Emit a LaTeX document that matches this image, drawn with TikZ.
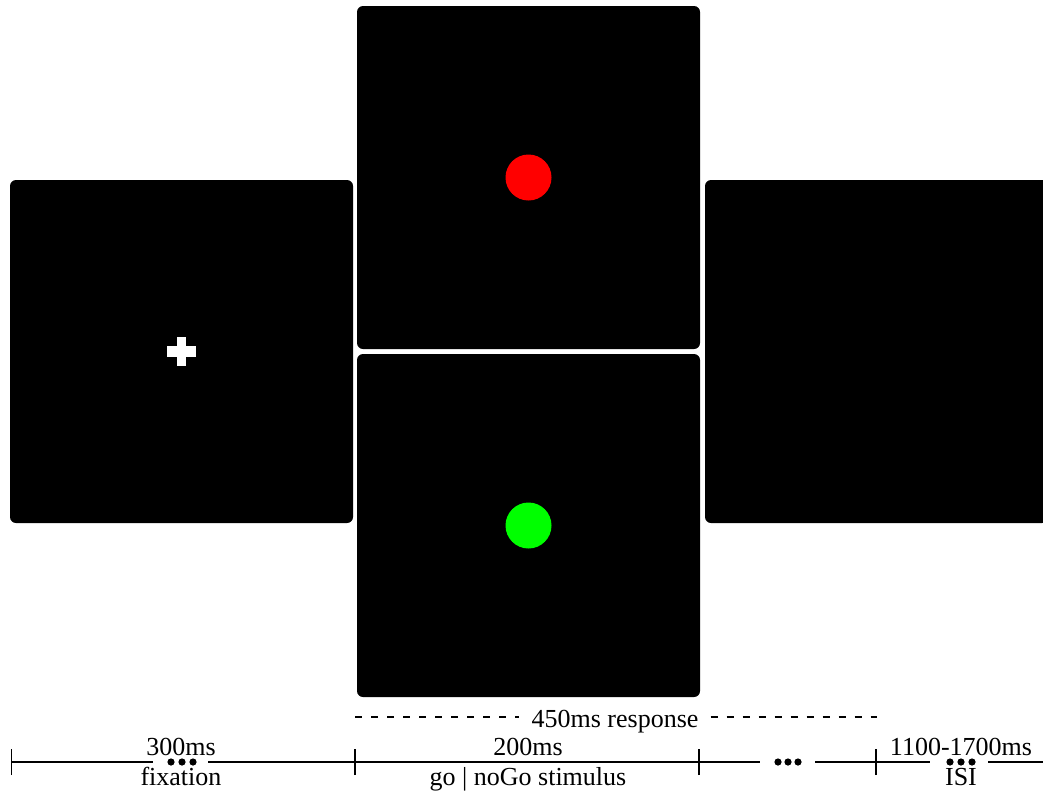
\documentclass[tikz,border=0pt]{standalone}
\usepackage{fontspec}
\setmainfont{Liberation Serif}
\begin{document}
\begin{tikzpicture}[x=1pt,y=-1pt,
  screen/.style={fill=black,draw=none,rounded corners=6pt,minimum width=343pt,minimum height=343pt,inner sep=0pt},
  lbl/.style={font=\fontsize{26}{30}\selectfont,inner sep=0pt,anchor=base},
  tl/.style={line width=1.8pt},
  dsh/.style={line width=1.8pt,dash pattern=on 7pt off 9pt},
  gap/.style={minimum width=#1,minimum height=10pt,inner sep=0pt},
  dot/.style={fill=black}
]
\useasboundingbox (0,0) rectangle (1043,790);
\clip (0,0) rectangle (1043,790);
% screens
\node[screen] (fix) at (181.5,351.5) {};
\node[screen] (nogo) at (528.5,177.5) {};
\node[screen] (go) at (528.5,525.5) {};
\node[screen] (isi) at (876.5,351.5) {};
% cross
\fill[white] ([xshift=-14.5pt,yshift=-5.5pt]fix.center) rectangle ([xshift=14.5pt,yshift=5.5pt]fix.center);
\fill[white] ([xshift=-4.5pt,yshift=-14.5pt]fix.center) rectangle ([xshift=4.5pt,yshift=14.5pt]fix.center);
% stimuli
\fill[red] (nogo.center) circle (23);
\fill[green] (go.center) circle (23);
% response
\node[lbl] (resp) at (615,727) {450ms response};
\coordinate (r0) at (355,717);
\coordinate (r1) at (877,717);
\draw[dsh] (r0) -- ([xshift=-12pt]resp.west |- r0);
\draw[dsh] ([xshift=12pt]resp.east |- r1) -- (r1);
% timeline
\coordinate (t0) at (11.5,762);
\coordinate (t1) at (355,762);
\coordinate (t2) at (699,762);
\coordinate (t3) at (876,762);
\coordinate (t4) at (1043,762);
\node[gap=55pt] (g1) at (180.5,762) {};
\node[gap=55pt] (g2) at (787.5,762) {};
\node[gap=58pt] (g3) at (959,762) {};
\draw[tl] (t0) -- (g1.west) (g1.east) -- (t1) -- (t2) -- (g2.west) (g2.east) -- (t3) -- (g3.west) (g3.east) -- (t4);
\foreach \t in {t0,t1,t2,t3}
  \draw[tl] ([yshift=-13pt]\t) -- ([yshift=13pt]\t);
\foreach \d in {-11,0,11} \fill[dot] ([xshift=\d pt+1.5pt]g1.center) circle (3.6);
\foreach \d in {-10,0,10} \fill[dot] ([xshift=\d pt+0.5pt]g2.center) circle (3.6);
\foreach \d in {-11,0,11} \fill[dot] ([xshift=\d pt+2pt]g3.center) circle (3.6);
% labels
\node[lbl] (l1a) at (181,755) {300ms};
\node[lbl] (l1b) at (181,785) {fixation};
\node[lbl] (l2a) at (528,755) {200ms};
\node[lbl] (l2b) at (528,785) {go | noGo stimulus};
\node[lbl] (l4a) at (961,755) {1100-1700ms};
\node[lbl] (l4b) at (961,785) {ISI};
\end{tikzpicture}
\end{document}
